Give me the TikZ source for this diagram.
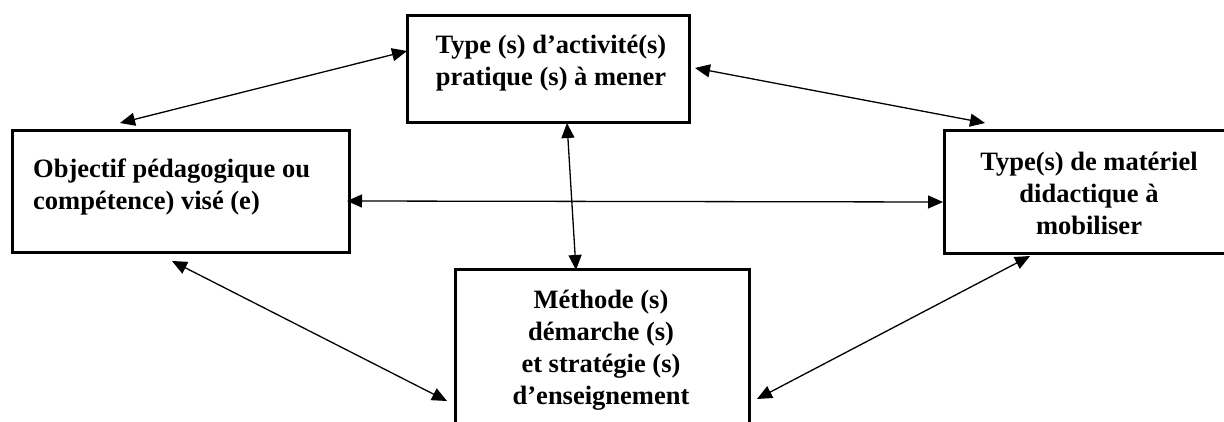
\documentclass[tikz,border=0pt]{standalone}
\usepackage{fontspec}
\setmainfont{Liberation Serif}
\usetikzlibrary{arrows.meta,calc}

\tikzset{
  boite/.style={draw, rectangle, line width=3pt, inner sep=0pt, outer sep=0pt, anchor=north west},
  texte/.style={font=\fontsize{26.5}{32}\selectfont\bfseries, inner sep=0pt, align=center},
  lien/.style={{Triangle[length=15pt,width=13pt]}-{Triangle[length=15pt,width=13pt]}, line width=1.3pt},
}

\begin{document}
\begin{tikzpicture}[x=1pt,y=-1pt]
  \clip (0,0) rectangle (1224,422);

  % les cadres
  \node[boite, minimum width=282pt, minimum height=107pt] (activite) at (407,16) {};
  \node[boite, minimum width=337pt, minimum height=122pt] (objectif) at (12,131) {};
  \node[boite, minimum width=290pt, minimum height=123pt] (materiel) at (944,131) {};
  \node[boite, minimum width=294pt, minimum height=180pt] (methode) at (455,270) {};

  % les textes
  \node[texte] (activiteTxt) at (551,63) {Type (s) d’activité(s)\\pratique (s) à mener};
  \node[texte, align=left, anchor=west] (objectifTxt) at (33,186.5) {Objectif pédagogique ou\\compétence) visé (e)};
  \node[texte] (materielTxt) at (1089,193.5) {Type(s) de matériel\\didactique à\\mobiliser};
  \node[texte] (methodeTxt) at (601,350.5) {Méthode (s)\\démarche (s)\\et stratégie (s)\\d’enseignement};

  % les liens
  \draw[lien] ($(objectif.north west)+(108,-8)$) -- ($(activite.north west)+(0,35)$);
  \draw[lien] ($(activite.north east)+(6,52)$) -- ($(materiel.north west)+(41,-8)$);
  \draw[lien] ($(objectif.north east)+(-2,70)$) -- ($(materiel.north west)+(-1,71)$);
  \draw[lien] ($(activite.south west)+(160,0)$) -- ($(methode.north west)+(121,0)$);
  \draw[lien] ($(objectif.south west)+(160,8)$) -- ($(methode.north west)+(-8,131)$);
  \draw[lien] ($(materiel.south west)+(86,2)$) -- ($(methode.north east)+(8,129)$);
\end{tikzpicture}
\end{document}
